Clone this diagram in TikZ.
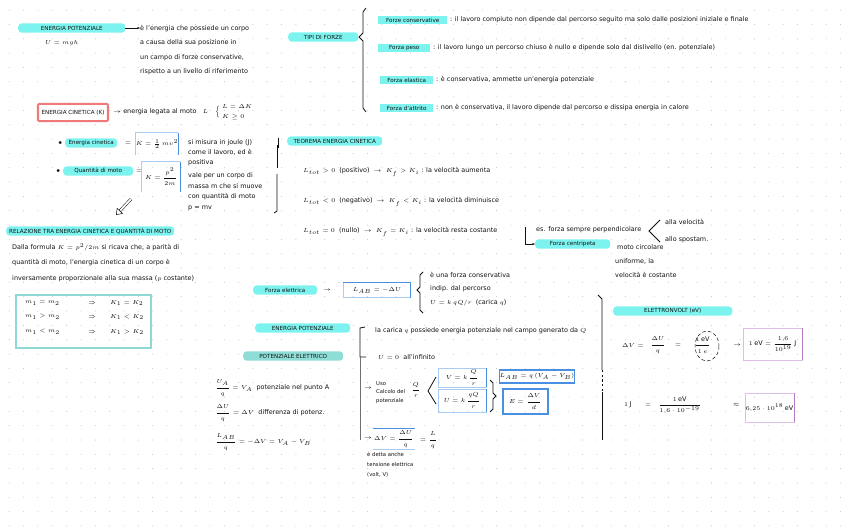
\documentclass[tikz,border=0pt]{standalone}
\usepackage{fontspec}
\setmainfont{DejaVu Sans}
\usepackage{amsmath}
\usepackage{xcolor}
\usetikzlibrary{positioning,arrows.meta}
\definecolor{hlCyan}{HTML}{7DF3EF}
\definecolor{hlTeal}{HTML}{8EDDD6}
\definecolor{boxBlue}{HTML}{4A90E2}
\definecolor{boxBlueL}{HTML}{A9CCF2}
\definecolor{boxRed}{HTML}{F07A7A}
\definecolor{boxTeal}{HTML}{8DD9D5}
\definecolor{boxPurple}{HTML}{B57CC6}
\definecolor{boxPurpleL}{HTML}{DDBFE6}
\definecolor{dotGray}{HTML}{C4C4C4}
\definecolor{ink}{HTML}{111111}

\begin{document}
\begin{tikzpicture}[x=0.03cm, y=-0.03cm,
    txt/.style={font=\fontsize{5.5}{6.5}\selectfont, inner sep=0pt, anchor=west, text=ink},
    blk/.style={txt, align=left, anchor=north west},
    pill/.style={txt, fill=hlCyan, rounded corners=3pt, minimum height=0.28cm,
                 inner xsep=2pt, font=\fontsize{4.8}{5.5}\selectfont, align=center},
    pillT/.style={pill, fill=hlTeal},
    hlw/.style={pill, rounded corners=0pt, minimum height=0.22cm},
    bbox/.style={txt, anchor=center, draw=boxBlueL, line width=0.6pt, align=center},
    bedge/.style={draw=boxBlue, line width=1pt},
    pbox/.style={txt, anchor=center, draw=boxPurpleL, line width=0.6pt, align=center},
    pedge/.style={draw=boxPurple, line width=1.2pt},
    bar/.style={draw=ink, line width=0.7pt},
    arr/.style={-{Stealth[length=2.5pt]}, line width=0.4pt, draw=ink},
  ]
  \useasboundingbox (0,0) rectangle (848,530);
  \fill[white] (0,0) rectangle (848,530);
  % griglia a punti
  \foreach \i in {0,...,58}{
    \foreach \j in {0,...,36}{
      \fill[dotGray] ({9.3+14.33*\i},{10.1+14.33*\j}) circle (0.45pt);
    }
  }

  % Energia potenziale (in alto a sinistra)
  \node[pill, minimum width=3.21cm] (posiz) at (18,28) {ENERGIA POTENZIALE};
  \node[blk, font=\fontsize{5.5}{12.3}\selectfont] (posdef) at (140,25)
    {è l'energia che possiede un corpo\\ a causa della sua posizione in\\ un campo di forze conservative,\\ rispetto a un livello di riferimento};
  \draw[arr] (posiz.east) -- (posiz.east -| posdef.west);
  \node[txt] (posf) at (45,43) {$U = mgh$};

  % Tipi di forze
  \node[pill, minimum width=2.1cm] (tipi) at (288,37) {TIPI DI FORZE};
  \draw[bar] (366,8) -- (363,12) -- (363,33) -- (359,37) -- (363,41) -- (363,108) -- (366,112);
  \node[hlw, minimum width=2.07cm] (cons) at (378,20) {Forze conservative};
  \node[txt, right=2pt of cons] (consd)
    {: il lavoro compiuto non dipende dal percorso seguito ma solo dalle posizioni iniziale e finale};
  \node[hlw, minimum width=1.56cm] (peso) at (378,48) {Forza peso};
  \node[txt, right=2pt of peso] (pesod)
    {: il lavoro lungo un percorso chiuso è nullo e dipende solo dal dislivello (en. potenziale)};
  \node[hlw, minimum width=1.59cm] (elas) at (380,80) {Forza elastica};
  \node[txt, right=2pt of elas] (elasd) {: è conservativa, ammette un'energia potenziale};
  \node[hlw, minimum width=1.59cm] (attr) at (380,108) {Forza d'attrito};
  \node[txt, right=2pt of attr] (attrd)
    {: non è conservativa, il lavoro dipende dal percorso e dissipa energia in calore};

  % Energia cinetica
  \node[txt, anchor=center, draw=boxRed, line width=1.8pt, rounded corners=1pt,
        minimum width=2.1cm, minimum height=0.52cm, font=\fontsize{4.8}{5.5}\selectfont] (cin) at (73,112.5) {ENERGIA CINETICA (K)};
  \node[txt] (cind) at (113,112) {$\rightarrow$ energia legata al moto \ \ $L$};
  \node[txt] (cinb) at (215,112) {$\Big\{$};
  \node[blk, font=\fontsize{5.5}{8.5}\selectfont] (cinl) at (222,104) {$L = \Delta K$\\ $K \geq 0$};

  \node[txt] (b1) at (58,143) {$\bullet$};
  \node[pill, minimum width=1.56cm] (ecin) at (65,143) {Energia cinetica};
  \node[txt] (eq1) at (125,143) {$=$};
  \node[txt, anchor=center, minimum width=1.2cm, minimum height=0.66cm] (k1) at (157,144) {$K = \frac{1}{2}\,m v^2$};
  \draw[draw=boxBlueL, line width=0.6pt] (k1.south west) -- (k1.north west) -- (k1.north east);
  \draw[bedge] (k1.north east) -- (k1.south east);

  \node[txt] (b2) at (56,171) {$\bullet$};
  \node[pill, minimum width=2.1cm] (qmot) at (63,171) {Quantità di moto};
  \node[txt] (eq2) at (136,171) {$=$};
  \node[txt, anchor=center, minimum width=1.14cm, minimum height=0.9cm] (k2) at (161,177) {$K = \dfrac{p^2}{2m}$};
  \draw[draw=boxBlueL, line width=0.6pt] (k2.south west) -- (k2.north west) -- (k2.north east);
  \draw[bedge] (k2.north east) -- (k2.south east);

  \node[blk, font=\fontsize{5.5}{8.5}\selectfont] (kunit) at (188,139)
    {si misura in joule (J)\\ come il lavoro, ed è\\ positiva};
  \node[blk, font=\fontsize{5.5}{9.3}\selectfont] (kpm) at (188,172)
    {vale per un corpo di\\ massa m che si muove\\ con quantità di moto\\ p = mv};
  \draw[bar] (277,145) -- (277,168);
  \draw[bar] (277,174) -- (277,211) -- (274,213);

  % freccia disegnata verso il riquadro sotto
  \coordinate (dA) at (131,199);
  \coordinate (dB) at (116,215);
  \draw[line width=0.4pt, double distance=1.6pt, -{Triangle[open, length=5pt, width=7pt]}] (dA) -- (dB);

  % Teorema dell'energia cinetica
  \node[pill, minimum width=2.85cm] (teor) at (287,141) {TEOREMA ENERGIA CINETICA};
  \draw[bar] (278,148) -- (278,138);
  \node[txt] (r1) at (303,172) {$L_{tot} > 0$ \ (positivo) \ $\rightarrow$ \ $K_f > K_i$ : la velocità aumenta};
  \node[txt] (r2) at (303,202) {$L_{tot} < 0$ \ (negativo) \ $\rightarrow$ \ $K_f < K_i$ : la velocità diminuisce};
  \node[txt] (r3) at (303,232) {$L_{tot} = 0$ \ (nullo) \ $\rightarrow$ \ $K_f = K_i$ : la velocità resta costante};
  \node[pill, minimum width=2.25cm] (cent) at (535,244) {Forza centripeta};
  \coordinate (lk) at (525,227);
  \draw[arr] (lk) |- (cent.west);
  \node[txt] (perp) at (536,230) {es. forza sempre perpendicolare};
  \draw[bar] (660,220) -- (649,231) -- (660,242);
  \node[txt] (perp1) at (665,222) {alla velocità};
  \node[txt] (perp2) at (665,240) {allo spostam.};
  \node[txt] (circ) at (617,247) {moto circolare};
  \node[blk, font=\fontsize{5.5}{12}\selectfont] (circd) at (615,258) {uniforme, la\\ velocità è costante};

  % Relazione K - quantità di moto
  \node[pill, minimum width=5.04cm] (rel) at (6,231) {RELAZIONE TRA ENERGIA CINETICA E QUANTITÀ DI MOTO};
  \node[blk, font=\fontsize{5.5}{13.2}\selectfont] (reld) at (12,243)
    {Dalla formula $K = p^2/2m$ si ricava che, a parità di\\
     quantità di moto, l'energia cinetica di un corpo è\\
     inversamente proporzionale alla sua massa ($p$ costante)};
  \node[txt, anchor=center, draw=boxTeal, line width=2.2pt, minimum width=4.04cm,
        minimum height=1.58cm] (tab) at (83.5,321.5) {};
  \node[txt] (t11) at (25,303) {$m_1 = m_2$};
  \node[txt] (t12) at (88,303) {$\Rightarrow$};
  \node[txt] (t13) at (110,303) {$K_1 = K_2$};
  \node[txt] (t21) at (25,317) {$m_1 > m_2$};
  \node[txt] (t22) at (88,317) {$\Rightarrow$};
  \node[txt] (t23) at (110,317) {$K_1 < K_2$};
  \node[txt] (t31) at (25,332) {$m_1 < m_2$};
  \node[txt] (t32) at (88,332) {$\Rightarrow$};
  \node[txt] (t33) at (110,332) {$K_1 > K_2$};

  % Forza elettrica
  \node[pill, minimum width=1.92cm] (fel) at (253,290) {Forza elettrica};
  \node[txt] (eq3) at (323,290) {$\rightarrow$};
  \node[bbox, minimum width=2.0cm, minimum height=0.45cm] (lav) at (377,290) {$L_{AB} = -\Delta U$};
  \draw[bedge] (lav.north west) -- (lav.north east) -- (lav.south east);
  \draw[bar] (423,272) -- (420,275) -- (420,287) -- (417,290) -- (420,293) -- (420,310) -- (423,313);
  \node[txt] (fel1) at (430,275) {è una forza conservativa};
  \node[txt] (fel2) at (430,289) {indip. dal percorso};
  \node[txt] (fel3) at (430,303) {$U = k\,qQ/r$ \ (carica $q$)};

  % Energia potenziale elettrica
  \node[pill, minimum width=2.85cm] (epot) at (255,328) {ENERGIA POTENZIALE};
  \draw[bar] (365,327) -- (360,328) -- (360,357) -- (366,357);
  \draw[draw=ink!60, line width=0.6pt] (360,357) -- (360,440);
  \node[txt] (epot1) at (375,331) {la carica $q$ possiede energia potenziale nel campo generato da $Q$};
  \node[txt] (epot2) at (378,357) {$U = 0$ \ all'infinito};

  % Potenziale elettrico
  \node[pillT, minimum width=3.0cm] (vpot) at (243,356) {POTENZIALE ELETTRICO};
  \node[txt] (v1) at (215,388) {$\dfrac{U_A}{q} = V_A$ \ potenziale nel punto A};
  \node[txt] (v2) at (215,413) {$\dfrac{\Delta U}{q} = \Delta V$ \ differenza di potenz.};
  \node[txt] (v3) at (215,442) {$\dfrac{L_{AB}}{q} = -\Delta V = V_A - V_B$};

  \node[txt] (ar1) at (364,388) {$\rightarrow$};
  \node[blk, font=\fontsize{4.5}{7.6}\selectfont] (uso) at (376,381) {Uso\\ Calcolo del\\ potenziale};
  \node[txt] (qr) at (411,390) {$\dfrac{Q}{r}$};
  \draw[bar] (436,377) -- (428,391) -- (436,404);
  \node[bbox, minimum width=1.44cm, minimum height=0.57cm] (vb1) at (462,377.5) {$V = k\,\dfrac{Q}{r}$};
  \draw[bedge] (vb1.north east) -- (vb1.south east);
  \node[bbox, minimum width=1.44cm, minimum height=0.69cm] (vb2) at (462,400.5) {$U = k\,\dfrac{qQ}{r}$};
  \draw[bedge] (vb2.north east) -- (vb2.south east);
  \draw[bar] (490,380) -- (493,383) -- (493,393) -- (496,396) -- (493,399) -- (493,409) -- (490,412);
  \node[bbox, draw=boxBlue, line width=1pt, minimum width=2.1cm, minimum height=0.39cm] (vb3) at (537,376.5) {$L_{AB} = q\,(V_A - V_B)$};
  \node[bbox, draw=boxBlue, line width=1pt, minimum width=1.35cm, minimum height=0.75cm] (vb4) at (525.5,401.5) {$E = \dfrac{\Delta V}{d}$};

  \node[txt] (ar2) at (364,438) {$\rightarrow$};
  \node[txt] (vdef) at (374,439) {$\Delta V = \dfrac{\Delta U}{q}$};
  \draw[draw=boxBlue, line width=1pt] (vdef.north west) ++(-1,-2) -- ++(42,0);
  \draw[draw=boxBlueL, line width=0.6pt] (vdef.south west) ++(-1,2) -- ++(42,0);
  \node[txt] (vdef2) at (420,440) {$=\dfrac{L}{q}$};
  \node[blk, font=\fontsize{4.5}{8.5}\selectfont] (tens) at (367,452) {è detta anche\\ tensione elettrica\\ (volt, V)};

  % Elettronvolt
  \draw[bar] (598,295) -- (602,299) -- (602,370);
  \draw[bar, dash pattern=on 2pt off 2pt] (602,370) -- (602,392);
  \draw[bar] (602,392) -- (602,440);
  \node[pill, minimum width=3.57cm] (ev) at (613,311) {ELETTRONVOLT (eV)};
  \node[txt] (ev1) at (622,345) {$\Delta V =$};
  \node[txt] (ev2) at (650,345) {$\dfrac{\Delta U}{q}$};
  \node[txt] (ev3) at (675,345) {$=$};
  \node[txt] (ev4) at (694,345) {$\dfrac{1\,\mathrm{eV}}{1\,e}$};
  \draw[densely dashed, line width=0.4pt] (707,346) ellipse (12 and 15);
  \node[txt] (ev5) at (733,345) {$\rightarrow$};
  \node[pbox, minimum width=1.77cm, minimum height=0.96cm] (pb1) at (772.5,344) {$1\,\mathrm{eV} = \dfrac{1{,}6}{10^{19}}\,\mathrm{J}$};
  \draw[pedge] (pb1.north east) -- (pb1.south east);

  \node[txt] (ew1) at (624,405) {$1\,\mathrm{J}$};
  \node[txt] (ew2) at (645,405) {$=$};
  \node[txt] (ew3) at (658,405) {$\dfrac{1\,\mathrm{eV}}{1{,}6\cdot 10^{-19}}$};
  \node[txt] (ew4) at (733,405) {$\approx$};
  \node[pbox, minimum width=1.47cm, minimum height=0.87cm] (pb2) at (769.5,407.5) {$6{,}25\cdot 10^{18}\,\mathrm{eV}$};
  \draw[pedge] (pb2.north east) -- (pb2.south east);
\end{tikzpicture}
\end{document}
